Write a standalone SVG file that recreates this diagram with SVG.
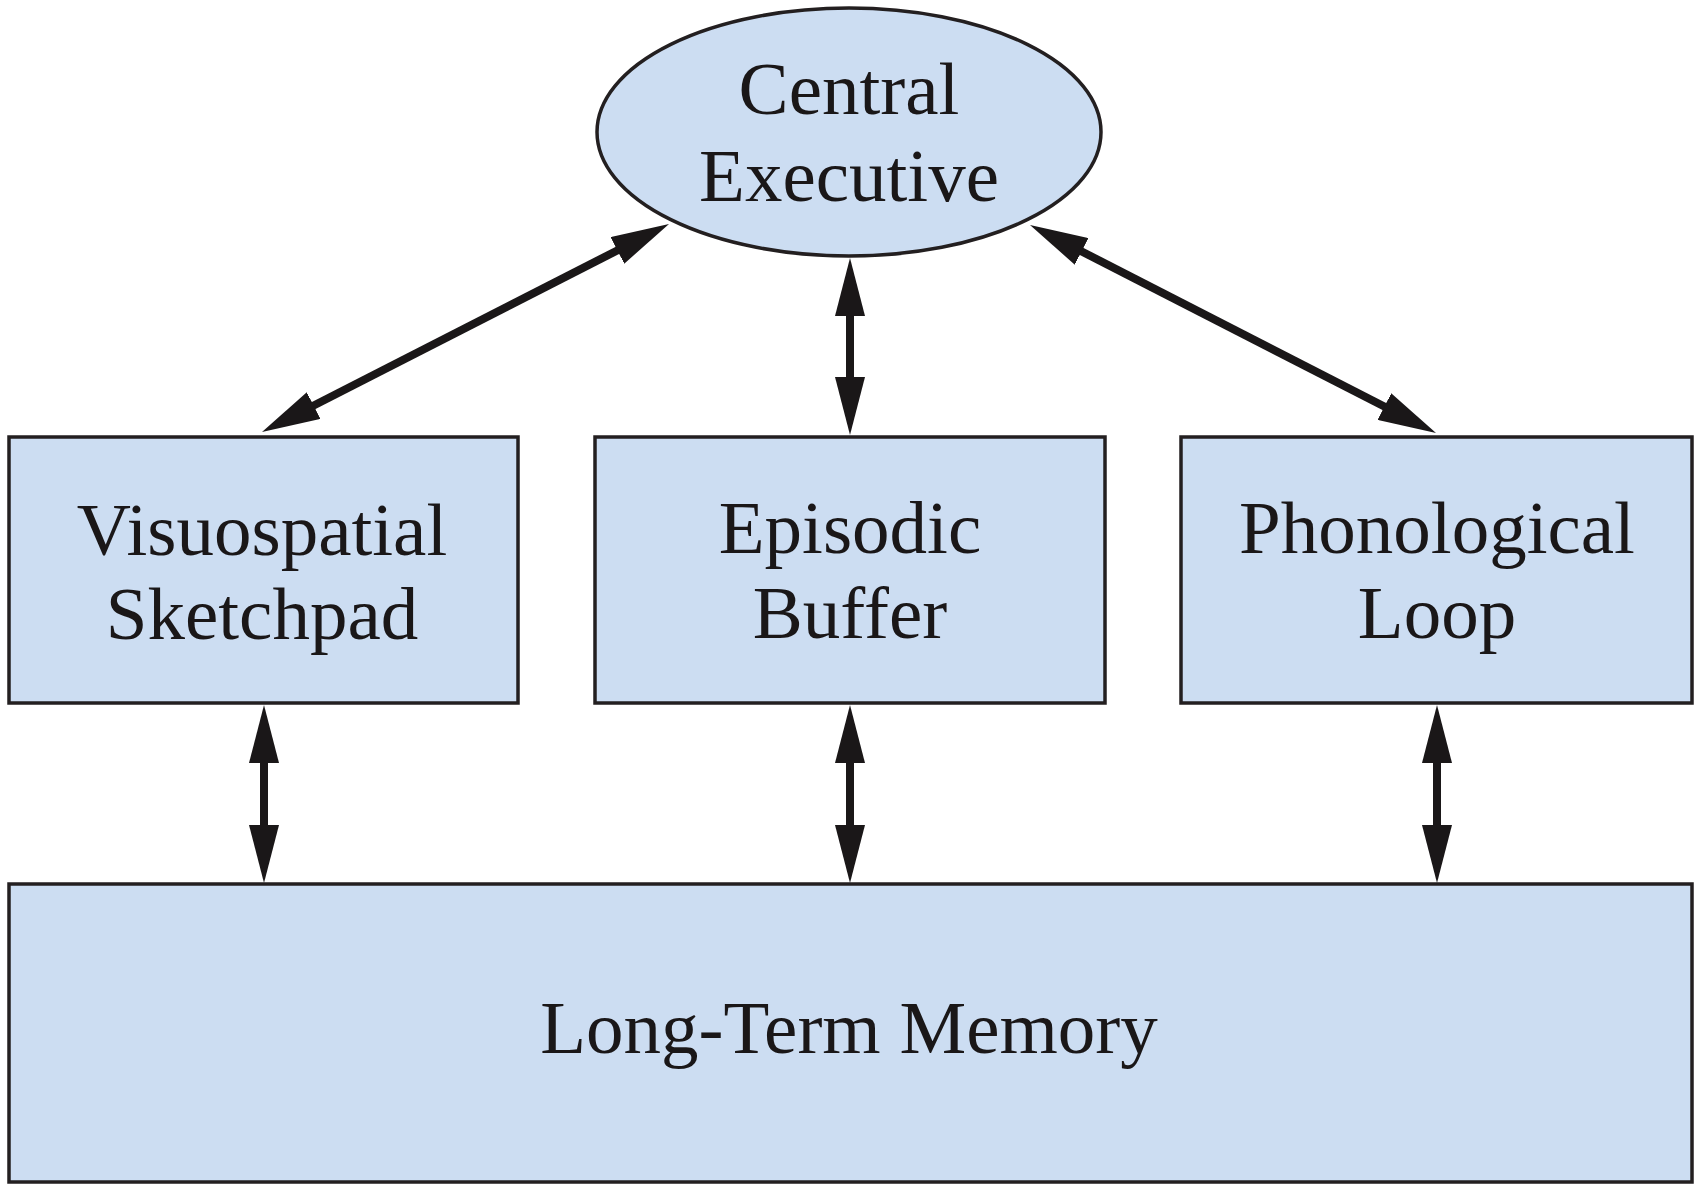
<svg xmlns="http://www.w3.org/2000/svg" width="1696" height="1185" viewBox="0 0 1696 1185">
<style>
.node{fill:#ccddf2;stroke:#231f20;stroke-width:3.5}
.lbl{font-family:"Liberation Serif","Times New Roman",serif;font-size:75px;fill:#1a1718;text-anchor:middle}
.conn{stroke:#1a1718;stroke-width:8;fill:none}
</style>
<defs>
<marker id="ah" viewBox="0 0 58 30" refX="18" refY="15" markerWidth="58" markerHeight="30" markerUnits="userSpaceOnUse" orient="auto-start-reverse">
<path d="M0,0 L58,15 L0,30 Z" fill="#1a1718"/>
</marker>
</defs>
<rect width="1696" height="1185" fill="#ffffff"/>
<g id="central-executive">
<ellipse class="node" cx="849" cy="132" rx="252" ry="124"/>
<text class="lbl" x="849" y="114">Central</text>
<text class="lbl" x="849" y="201">Executive</text>
</g>
<g id="visuospatial-sketchpad">
<rect class="node" x="9" y="437" width="509" height="266"/>
<text class="lbl" x="262" y="555">Visuospatial</text>
<text class="lbl" x="262" y="639">Sketchpad</text>
</g>
<g id="episodic-buffer">
<rect class="node" x="595" y="437" width="510" height="266"/>
<text class="lbl" x="850" y="553">Episodic</text>
<text class="lbl" x="850" y="638">Buffer</text>
</g>
<g id="phonological-loop">
<rect class="node" x="1181" y="437" width="511" height="266"/>
<text class="lbl" x="1437" y="553">Phonological</text>
<text class="lbl" x="1437" y="638">Loop</text>
</g>
<g id="long-term-memory">
<rect class="node" x="9" y="884" width="1683" height="298"/>
<text class="lbl" x="849" y="1053">Long-Term Memory</text>
</g>
<g id="connectors">
<line class="conn" x1="297.6" y1="413.8" x2="633.4" y2="242.2" marker-start="url(#ah)" marker-end="url(#ah)"/>
<line class="conn" x1="1065.6" y1="243.2" x2="1400.4" y2="414.8" marker-start="url(#ah)" marker-end="url(#ah)"/>
<line class="conn" x1="850" y1="298" x2="850" y2="395" marker-start="url(#ah)" marker-end="url(#ah)"/>
<line class="conn" x1="264" y1="745" x2="264" y2="843" marker-start="url(#ah)" marker-end="url(#ah)"/>
<line class="conn" x1="850" y1="745" x2="850" y2="843" marker-start="url(#ah)" marker-end="url(#ah)"/>
<line class="conn" x1="1437" y1="745" x2="1437" y2="843" marker-start="url(#ah)" marker-end="url(#ah)"/>
</g>
</svg>
